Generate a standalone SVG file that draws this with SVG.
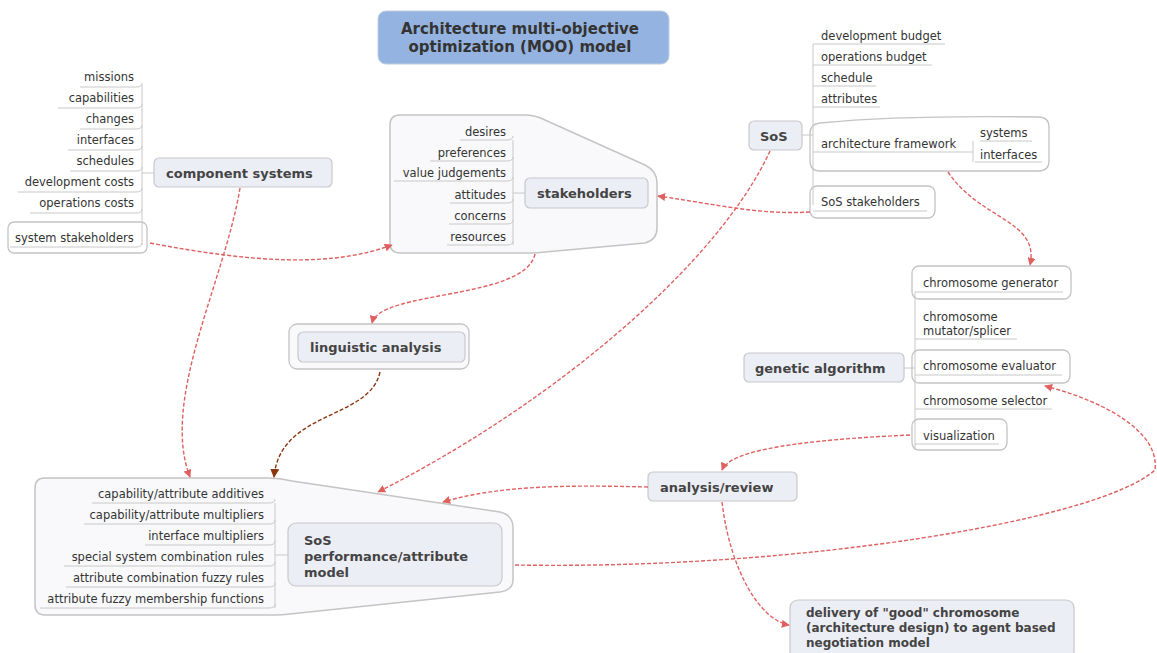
<svg xmlns="http://www.w3.org/2000/svg" width="1157" height="653" viewBox="0 0 1157 653">
<style>
text{font-family:"DejaVu Sans","Liberation Sans",sans-serif;fill:#333}
.lb{font-size:11.5px}
.nb{font-size:13px;font-weight:bold;fill:#444}
.tt{font-size:15px;font-weight:bold;fill:#333}
.node{fill:#eceef5;stroke:#c8c8cc;stroke-width:1.2}
.grp{fill:#f9f9fb;stroke:#c4c4c4;stroke-width:1.5}
.box{fill:none;stroke:#c4c4c4;stroke-width:1.3}
.br{fill:none;stroke:#c8c8c8;stroke-width:1}
.c{fill:none;stroke:#e06060;stroke-width:1.4;stroke-dasharray:4 2}
.cb{fill:none;stroke:#8b3510;stroke-width:1.4;stroke-dasharray:4 2}
</style>
<defs>
<marker id="ar" viewBox="0 0 10 10" refX="9" refY="5" markerWidth="8" markerHeight="8" orient="auto" markerUnits="userSpaceOnUse"><path d="M0,0 L10,5 L0,10 z" fill="#e06060"/></marker>
<marker id="ab" viewBox="0 0 10 10" refX="9" refY="5" markerWidth="9" markerHeight="9" orient="auto" markerUnits="userSpaceOnUse"><path d="M0,0 L10,5 L0,10 z" fill="#8b3510"/></marker>
</defs>
<rect width="1157" height="653" fill="#fff"/>

<g id="title">
<rect x="378" y="11" width="291" height="53" rx="8" fill="#95b3e0" stroke="#c0cce0" stroke-width="1"/>
<text class="tt" x="520" y="34" text-anchor="middle">Architecture multi-objective</text>
<text class="tt" x="520" y="52" text-anchor="middle">optimization (MOO) model</text>
</g>

<g id="component-systems">
<path class="br" d="M142,85 V245 M142,173 H154"/>
<path class="br" d="M80,87 H136 q6,0 6,-4 M58,108 H136 q6,0 6,-4 M80,129 H136 q6,0 6,-4 M68,150 H136 q6,0 6,-4 M70,171 H136 q6,0 6,-4 M18,192 H136 q6,0 6,-4 M30,213 H136 q6,0 6,-4"/>
<text class="lb" x="134" y="81" text-anchor="end">missions</text>
<text class="lb" x="134" y="102" text-anchor="end">capabilities</text>
<text class="lb" x="134" y="123" text-anchor="end">changes</text>
<text class="lb" x="134" y="144" text-anchor="end">interfaces</text>
<text class="lb" x="134" y="165" text-anchor="end">schedules</text>
<text class="lb" x="134" y="186" text-anchor="end">development costs</text>
<text class="lb" x="134" y="207" text-anchor="end">operations costs</text>
<rect class="box" x="8" y="222" width="139" height="31" rx="6"/>
<path class="br" d="M10,247 H136 q6,0 6,-4"/>
<text class="lb" x="15" y="242">system stakeholders</text>
<rect class="node" x="154" y="158" width="178" height="29" rx="5"/>
<text class="nb" x="166" y="178">component systems</text>
</g>

<g id="stakeholders">
<path class="grp" d="M400,115 H525 Q535,115 545,120 L645,165 Q657,171 657,183 V228 Q657,240 645,243 L545,252 Q538,253 530,253 H400 Q390,253 390,243 V125 Q390,115 400,115 Z"/>
<path class="br" d="M513,140 V245 M513,193 H525"/>
<path class="br" d="M460,140 H507 q6,0 6,-4 M430,161 H507 q6,0 6,-4 M394,181 H507 q6,0 6,-4 M450,203 H507 q6,0 6,-4 M449,224 H507 q6,0 6,-4 M447,245 H507 q6,0 6,-4"/>
<text class="lb" x="506" y="136" text-anchor="end">desires</text>
<text class="lb" x="506" y="157" text-anchor="end">preferences</text>
<text class="lb" x="506" y="177" text-anchor="end">value judgements</text>
<text class="lb" x="506" y="199" text-anchor="end">attitudes</text>
<text class="lb" x="506" y="220" text-anchor="end">concerns</text>
<text class="lb" x="506" y="241" text-anchor="end">resources</text>
<rect class="node" x="525" y="178" width="123" height="30" rx="5"/>
<text class="nb" x="537" y="198">stakeholders</text>
</g>

<g id="linguistic-analysis">
<rect x="289" y="324" width="180" height="45" rx="8" fill="#f9f9fb" stroke="#c4c4c4" stroke-width="1.3"/>
<rect class="node" x="298" y="332" width="167" height="30" rx="5"/>
<text class="nb" x="310" y="352">linguistic analysis</text>
</g>

<g id="sos-performance">
<path class="grp" d="M45,478 H268 Q280,478 292,481 L500,512 Q513,515 513,528 V580 Q513,590 500,592 L290,614 Q282,615 275,615 H45 Q35,615 35,605 V488 Q35,478 45,478 Z"/>
<path class="br" d="M275,503 V608 M275,555 H288"/>
<path class="br" d="M92,503 H269 q6,0 6,-4 M84,524 H269 q6,0 6,-4 M145,545 H269 q6,0 6,-4 M64,566 H269 q6,0 6,-4 M66,587 H269 q6,0 6,-4 M40,608 H269 q6,0 6,-4"/>
<text class="lb" x="264" y="498" text-anchor="end">capability/attribute additives</text>
<text class="lb" x="264" y="519" text-anchor="end">capability/attribute multipliers</text>
<text class="lb" x="264" y="540" text-anchor="end">interface multipliers</text>
<text class="lb" x="264" y="561" text-anchor="end">special system combination rules</text>
<text class="lb" x="264" y="582" text-anchor="end">attribute combination fuzzy rules</text>
<text class="lb" x="264" y="603" text-anchor="end">attribute fuzzy membership functions</text>
<rect class="node" x="288" y="523" width="214" height="63" rx="8"/>
<text class="nb" x="304" y="545">SoS</text>
<text class="nb" x="304" y="561">performance/attribute</text>
<text class="nb" x="304" y="577">model</text>
</g>

<g id="sos">
<path class="br" d="M813,44 V205 M802,135 H813"/>
<path class="br" d="M813,44 H945 M813,65 H932 M813,86 H876 M813,107 H880"/>
<text class="lb" x="821" y="40">development budget</text>
<text class="lb" x="821" y="61">operations budget</text>
<text class="lb" x="821" y="82">schedule</text>
<text class="lb" x="821" y="103">attributes</text>
<path class="box" d="M820,123 Q900,115 1038,117 Q1049,117 1049,127 V161 Q1049,171 1038,171 H820 Q810,171 810,161 V133 Q810,124 820,123 Z"/>
<path class="br" d="M813,152 H973 M973,141 V162 M980,141 H1032 M975,162 H1042"/>
<text class="lb" x="821" y="148">architecture framework</text>
<text class="lb" x="980" y="137">systems</text>
<text class="lb" x="980" y="159">interfaces</text>
<rect class="box" x="810" y="186" width="125" height="32" rx="7"/>
<path class="br" d="M813,211 H927"/>
<text class="lb" x="821" y="206">SoS stakeholders</text>
<rect class="node" x="749" y="121" width="53" height="29" rx="5"/>
<text class="nb" x="760" y="141">SoS</text>
</g>

<g id="genetic-algorithm">
<path class="br" d="M915,292 V450 M904,368 H915"/>
<rect class="box" x="912" y="266" width="159" height="33" rx="7"/>
<path class="br" d="M915,292 H1063"/>
<text class="lb" x="923" y="287">chromosome generator</text>
<path class="br" d="M915,339 H1017"/>
<text class="lb" x="923" y="321">chromosome</text>
<text class="lb" x="923" y="335">mutator/splicer</text>
<rect class="box" x="912" y="350" width="158" height="33" rx="7"/>
<path class="br" d="M915,375 H1062"/>
<text class="lb" x="923" y="370">chromosome evaluator</text>
<path class="br" d="M915,409 H1052"/>
<text class="lb" x="923" y="405">chromosome selector</text>
<rect class="box" x="912" y="419" width="95" height="31" rx="7"/>
<path class="br" d="M915,444 H999"/>
<text class="lb" x="923" y="440">visualization</text>
<rect class="node" x="744" y="353" width="160" height="29" rx="5"/>
<text class="nb" x="755" y="373">genetic algorithm</text>
</g>

<g id="analysis-review">
<rect class="node" x="648" y="472" width="149" height="29" rx="5"/>
<text class="nb" x="660" y="492">analysis/review</text>
</g>

<g id="delivery">
<rect class="node" x="790" y="600" width="284" height="60" rx="8"/>
<text class="nb" x="806" y="617" style="font-size:12px">delivery of "good" chromosome</text>
<text class="nb" x="806" y="632" style="font-size:12px">(architecture design) to agent based</text>
<text class="nb" x="806" y="647" style="font-size:12px">negotiation model</text>
</g>

<g id="connectors">
<path class="c" d="M240,188 C225,280 160,400 190,477" marker-end="url(#ar)"/>
<path class="c" d="M150,243 C250,262 330,268 392,245" marker-end="url(#ar)"/>
<path class="c" d="M810,212 C760,215 720,205 658,196" marker-end="url(#ar)"/>
<path class="c" d="M535,254 C525,300 380,290 372,323" marker-end="url(#ar)"/>
<path class="cb" d="M380,372 C370,420 280,410 274,477" marker-end="url(#ab)"/>
<path class="c" d="M770,151 C720,260 560,400 378,492" marker-end="url(#ar)"/>
<path class="c" d="M948,172 C980,220 1040,220 1030,265" marker-end="url(#ar)"/>
<path class="c" d="M910,435 C800,440 730,450 722,470" marker-end="url(#ar)"/>
<path class="c" d="M648,487 C570,485 500,485 443,502" marker-end="url(#ar)"/>
<path class="c" d="M722,502 C730,570 760,620 789,625" marker-end="url(#ar)"/>
<path class="c" d="M515,565 C800,570 1100,520 1155,470 C1160,430 1100,400 1045,386" marker-end="url(#ar)"/>
</g>
</svg>
